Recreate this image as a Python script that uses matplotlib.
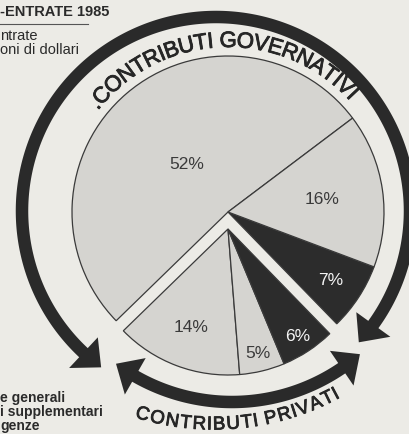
import numpy as np
import matplotlib
matplotlib.use('Agg')
import matplotlib.pyplot as plt
import matplotlib.patheffects as pe
from matplotlib.patches import Polygon
from matplotlib.font_manager import FontProperties, findfont
from matplotlib.ft2font import FT2Font

# ---------------- data ----------------
slice_labels = ['52%', '14%', '5%', '6%', '7%', '16%']
slice_values = [52, 14, 5, 6, 7, 16]
slice_group = ['gov', 'priv', 'priv', 'priv', 'gov', 'gov']
slice_dark = [False, False, False, True, True, False]
group_titles = ['.CONTRIBUTI GOVERNATIVI', 'CONTRIBUTI PRIVATI']
header_lines = ['-ENTRATE 1985', 'ntrate', 'oni di dollari']
legend_lines = ['e generali', 'i supplementari', 'genze']

# ---------------- style ----------------
W, H = 410, 435
BG = '#ecebe6'
LIGHT = '#d5d4d0'
DARK = '#2c2c2c'
INK = '#2a2a2a'
FONT = 'Liberation Sans'

def Y(y_img):
    return H - y_img

fig = plt.figure(figsize=(W / 100, H / 100), dpi=100)
fig.patch.set_facecolor(BG)
ax = fig.add_axes([0, 0, 1, 1])
ax.set_facecolor(BG)

main_center = (228, Y(213))
main_radius = 156
priv_center = (228, Y(230))
priv_radius = 146
label_dist = [0.41, 0.71, 0.87, 0.87, 0.79, 0.61]

colors = [DARK if d else LIGHT for d in slice_dark]
wedges, _ = ax.pie(slice_values, startangle=37, counterclock=True,
                   center=main_center, radius=main_radius, colors=colors,
                   wedgeprops=dict(edgecolor='#3a3a3a', linewidth=0.9),
                   frame=True)
for w, g in zip(wedges, slice_group):
    if g == 'priv':
        w.set_center(priv_center)
        w.set_radius(priv_radius)

for w, lab, d, dist in zip(wedges, slice_labels, slice_dark, label_dist):
    mid = np.deg2rad((w.theta1 + w.theta2) / 2)
    cx, cy = w.center
    r = w.r * dist
    ax.text(cx + r * np.cos(mid), cy + r * np.sin(mid), lab,
            ha='center', va='center', fontsize=12.5, family=FONT,
            color='#f4f4f4' if d else '#3a3a3a')

# ---------------- ring arrows ----------------
def ring(c, R, a0, a1, lw=12.5, head_len=23, head_half=21, color=INK):
    cx, cy = c
    dl = np.rad2deg(head_len / R)
    t = np.deg2rad(np.linspace(a0 + dl * 0.9, a1 - dl * 0.9, 300))
    outer = np.c_[cx + (R + lw / 2) * np.cos(t), cy + (R + lw / 2) * np.sin(t)]
    inner = np.c_[cx + (R - lw / 2) * np.cos(t[::-1]), cy + (R - lw / 2) * np.sin(t[::-1])]
    ax.add_patch(Polygon(np.r_[outer, inner], closed=True, facecolor=color,
                         edgecolor='none', zorder=3))
    for tip_a, base_a in ((a1, a1 - dl), (a0, a0 + dl)):
        ta, ba = np.deg2rad(tip_a), np.deg2rad(base_a)
        tip = (cx + R * np.cos(ta), cy + R * np.sin(ta))
        b1 = (cx + (R + head_half) * np.cos(ba), cy + (R + head_half) * np.sin(ba))
        b2 = (cx + (R - head_half) * np.cos(ba), cy + (R - head_half) * np.sin(ba))
        ax.add_patch(Polygon([tip, b1, b2], closed=True, facecolor=color,
                             edgecolor='none', zorder=3))

ring((216, Y(212)), 194, -42.6, 233.7)
ring((232, Y(208)), 195, 233.5, 311.0)

# ---------------- curved texts ----------------
def arc_text(s, c, r_base, a_first, a_last, size, outward, weight='normal'):
    fp = FontProperties(family=FONT, weight=weight)
    ft = FT2Font(findfont(fp))
    ft.set_size(size, 72)
    adv = []
    for ch in s:
        g = ft.load_char(ord(ch))
        adv.append(g.linearHoriAdvance / 65536.0)
    adv = np.array(adv)
    centers = np.cumsum(adv) - adv / 2
    t = (centers - centers[0]) / (centers[-1] - centers[0])
    angles = a_first + t * (a_last - a_first)
    cx, cy = c
    for ch, a in zip(s, angles):
        if ch == ' ':
            continue
        rad = np.deg2rad(a)
        rot = a - 90 if outward else a + 90
        ax.text(cx + r_base * np.cos(rad), cy + r_base * np.sin(rad), ch,
                rotation=rot, rotation_mode='anchor', ha='center',
                va='baseline', fontsize=size, family=FONT, weight=weight,
                color='#262626', zorder=4,
                path_effects=[pe.withStroke(linewidth=0.6, foreground='#262626')])

arc_text(group_titles[0], main_center, 165, 141.0, 43.4, 16, outward=True)
arc_text(group_titles[1], (214, Y(166)), 264.5, 254.0, 298.0, 13.5, outward=False)

# ---------------- corner texts ----------------
ax.text(0, Y(16.5), header_lines[0], ha='left', va='baseline', fontsize=10.5,
        weight='bold', family=FONT, color='#2a2a2a')
ax.plot([0, 88], [Y(24.5), Y(24.5)], color='#555555', lw=0.8)
ax.text(0, Y(40), header_lines[1], ha='left', va='baseline', fontsize=10.5,
        family=FONT, color='#2a2a2a')
ax.text(0, Y(53.5), header_lines[2], ha='left', va='baseline', fontsize=10.5,
        family=FONT, color='#2a2a2a')

for line, yb in zip(legend_lines, [402, 416, 430]):
    ax.text(0, Y(yb), line, ha='left', va='baseline', fontsize=10,
            weight='bold', family=FONT, color='#2a2a2a')

ax.set_xlim(0, W)
ax.set_ylim(0, H)
ax.set_aspect('auto')
ax.set_axis_off()
fig.savefig('out.png', dpi=100, facecolor=BG)
